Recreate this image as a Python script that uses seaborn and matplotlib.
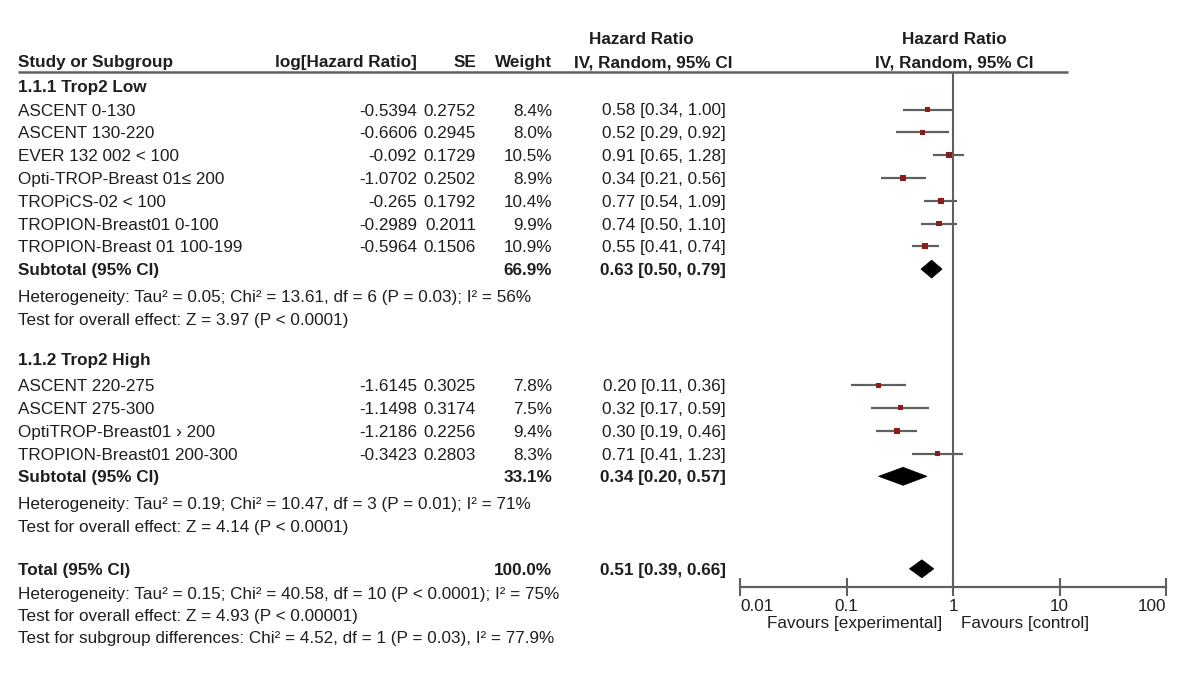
import numpy as np
import pandas as pd
import matplotlib
matplotlib.use("Agg")
import matplotlib.pyplot as plt
from matplotlib.patches import Polygon
from matplotlib.ticker import NullLocator
import seaborn as sns

# ---------------- data ----------------
group_titles = ["1.1.1 Trop2 Low", "1.1.2 Trop2 High"]

studies_low = ["ASCENT 0-130", "ASCENT 130-220", "EVER 132 002 < 100",
               "Opti-TROP-Breast 01\u2264 200", "TROPiCS-02 < 100",
               "TROPION-Breast01 0-100", "TROPION-Breast 01 100-199"]
loghr_low = [-0.5394, -0.6606, -0.092, -1.0702, -0.265, -0.2989, -0.5964]
se_low = [0.2752, 0.2945, 0.1729, 0.2502, 0.1792, 0.2011, 0.1506]
weight_low = [8.4, 8.0, 10.5, 8.9, 10.4, 9.9, 10.9]
hr_low = [0.58, 0.52, 0.91, 0.34, 0.77, 0.74, 0.55]
lo_low = [0.34, 0.29, 0.65, 0.21, 0.54, 0.50, 0.41]
hi_low = [1.00, 0.92, 1.28, 0.56, 1.09, 1.10, 0.74]

studies_high = ["ASCENT 220-275", "ASCENT 275-300", "OptiTROP-Breast01 \u203a 200",
                "TROPION-Breast01 200-300"]
loghr_high = [-1.6145, -1.1498, -1.2186, -0.3423]
se_high = [0.3025, 0.3174, 0.2256, 0.2803]
weight_high = [7.8, 7.5, 9.4, 8.3]
hr_high = [0.20, 0.32, 0.30, 0.71]
lo_high = [0.11, 0.17, 0.19, 0.41]
hi_high = [0.36, 0.59, 0.46, 1.23]

subtotal_weight = [66.9, 33.1]
subtotal_hr = [0.63, 0.34]
subtotal_lo = [0.50, 0.20]
subtotal_hi = [0.79, 0.57]
subtotal_notes = [
    ["Heterogeneity: Tau\u00b2 = 0.05; Chi\u00b2 = 13.61, df = 6 (P = 0.03); I\u00b2 = 56%",
     "Test for overall effect: Z = 3.97 (P < 0.0001)"],
    ["Heterogeneity: Tau\u00b2 = 0.19; Chi\u00b2 = 10.47, df = 3 (P = 0.01); I\u00b2 = 71%",
     "Test for overall effect: Z = 4.14 (P < 0.0001)"],
]

total_weight = 100.0
total_hr = 0.51
total_lo = 0.39
total_hi = 0.66
total_notes = [
    "Heterogeneity: Tau\u00b2 = 0.15; Chi\u00b2 = 40.58, df = 10 (P < 0.0001); I\u00b2 = 75%",
    "Test for overall effect: Z = 4.93 (P < 0.00001)",
    "Test for subgroup differences: Chi\u00b2 = 4.52, df = 1 (P = 0.03), I\u00b2 = 77.9%",
]

tick_values = [0.01, 0.1, 1, 10, 100]
tick_labels = ["0.01", "0.1", "1", "10", "100"]
favours_left = "Favours [experimental]"
favours_right = "Favours [control]"

# ---------------- style ----------------
sns.set_theme(style="white")
plt.rcParams['font.family'] = ['Liberation Sans', 'DejaVu Sans']
FS = 12.3
TXT = "#1e1e1e"
LINE = "#606060"
MARK = "#8e1a1a"

W, H = 1200, 696
fig = plt.figure(figsize=(12, 6.96), dpi=100)
fig.patch.set_facecolor("white")

bg = fig.add_axes([0, 0, 1, 1], zorder=0)
bg.set_xlim(0, W)
bg.set_ylim(H, 0)
bg.axis("off")

X_LEFT, X_RIGHT = 740, 1166
Y_TOP, Y_AXIS = 72, 587
fax = fig.add_axes([X_LEFT / W, 1 - Y_AXIS / H, (X_RIGHT - X_LEFT) / W, (Y_AXIS - Y_TOP) / H],
                   zorder=1)
fax.patch.set_alpha(0)
fax.set_xscale("log")
fax.set_xlim(tick_values[0], tick_values[-1])
fax.set_ylim(Y_AXIS, Y_TOP)

# column anchors (pixels)
X_NAME = 18
X_LOG = 417
X_SE = 476
X_W = 552
X_CI = 726
BASE = 6.0  # centre-to-baseline offset in pixels


def t(x, y, s, ha="left", bold=False, size=FS):
    bg.text(x, y + BASE, s, ha=ha, va="baseline", fontsize=size, color=TXT,
            fontweight="bold" if bold else "normal")


# headers
t(641, 38, "Hazard Ratio", ha="center", bold=True)
t(954, 38, "Hazard Ratio", ha="center", bold=True)
t(X_NAME, 61, "Study or Subgroup", bold=True)
t(X_LOG, 61, "log[Hazard Ratio]", ha="right", bold=True)
t(X_SE, 61, "SE", ha="right", bold=True)
t(X_W, 61, "Weight", ha="right", bold=True)
t(653, 61, "IV, Random, 95% CI", ha="center", bold=True)
t(954, 61, "IV, Random, 95% CI", ha="center", bold=True)
bg.plot([X_NAME, 1068], [Y_TOP, Y_TOP], color=LINE, lw=1.8, solid_capstyle="butt")

groups = [
    (studies_low, loghr_low, se_low, weight_low, hr_low, lo_low, hi_low),
    (studies_high, loghr_high, se_high, weight_high, hr_high, lo_high, hi_high),
]

ROW = 22.8
records = []
diamonds = []
y = 86.0
for gi, (names, lg, se, wt, hr, lo, hi) in enumerate(groups):
    t(X_NAME, y, group_titles[gi], bold=True)
    y += 23.5 if gi == 0 else 26.5
    for k in range(len(names)):
        t(X_NAME, y, names[k])
        t(X_LOG, y, str(lg[k]), ha="right")
        t(X_SE, y, f"{se[k]:.4f}", ha="right")
        t(X_W, y, f"{wt[k]:.1f}%", ha="right")
        t(X_CI, y, f"{hr[k]:.2f} [{lo[k]:.2f}, {hi[k]:.2f}]", ha="right")
        records.append(dict(y=y, hr=hr[k], lo=lo[k], hi=hi[k], w=wt[k]))
        y += ROW
    t(X_NAME, y, "Subtotal (95% CI)", bold=True)
    t(X_W, y, f"{subtotal_weight[gi]:.1f}%", ha="right", bold=True)
    t(X_CI, y, f"{subtotal_hr[gi]:.2f} [{subtotal_lo[gi]:.2f}, {subtotal_hi[gi]:.2f}]",
      ha="right", bold=True)
    diamonds.append((subtotal_hr[gi], subtotal_lo[gi], subtotal_hi[gi], y))
    y += 26.5
    for note in subtotal_notes[gi]:
        t(X_NAME, y, note)
        y += 23.0
    y += 17.0

y += 3.0
t(X_NAME, y, "Total (95% CI)", bold=True)
t(X_W, y, f"{total_weight:.1f}%", ha="right", bold=True)
t(X_CI, y, f"{total_hr:.2f} [{total_lo:.2f}, {total_hi:.2f}]", ha="right", bold=True)
diamonds.append((total_hr, total_lo, total_hi, y))
y += 24.0
for note in total_notes:
    t(X_NAME, y, note)
    y += 22.3

# ---------------- forest ----------------
df = pd.DataFrame(records)
fax.axvline(1, color=LINE, lw=1.5, zorder=1)
fax.hlines(df["y"], df["lo"], df["hi"], color=LINE, lw=1.6, zorder=2)
sns.scatterplot(data=df, x="hr", y="y", size="w", sizes=(12, 20), marker="s",
                color=MARK, edgecolor="none", legend=False, ax=fax, zorder=3)
for est, lo, hi, yy in diamonds:
    fax.add_patch(Polygon([(lo, yy), (est, yy - 9), (hi, yy), (est, yy + 9)],
                          closed=True, facecolor="black", edgecolor="black", lw=0.5,
                          zorder=3))

fax.set_xlabel("")
fax.set_ylabel("")
fax.set_yticks([])
for s in ["left", "right", "top"]:
    fax.spines[s].set_visible(False)
fax.spines["bottom"].set_color(LINE)
fax.spines["bottom"].set_linewidth(1.6)
fax.set_xticks(tick_values)
fax.set_xticklabels(tick_labels)
fax.xaxis.set_minor_locator(NullLocator())
fax.tick_params(axis="x", which="major", direction="inout", length=13, width=1.5,
                color=LINE, labelsize=FS, labelcolor=TXT, pad=2, bottom=True)
labs = fax.get_xticklabels()
labs[0].set_ha("left")
labs[-1].set_ha("right")

t(942, 622, favours_left, ha="right")
t(961, 622, favours_right, ha="left")

fig.savefig("out.png", dpi=100, facecolor="white")
